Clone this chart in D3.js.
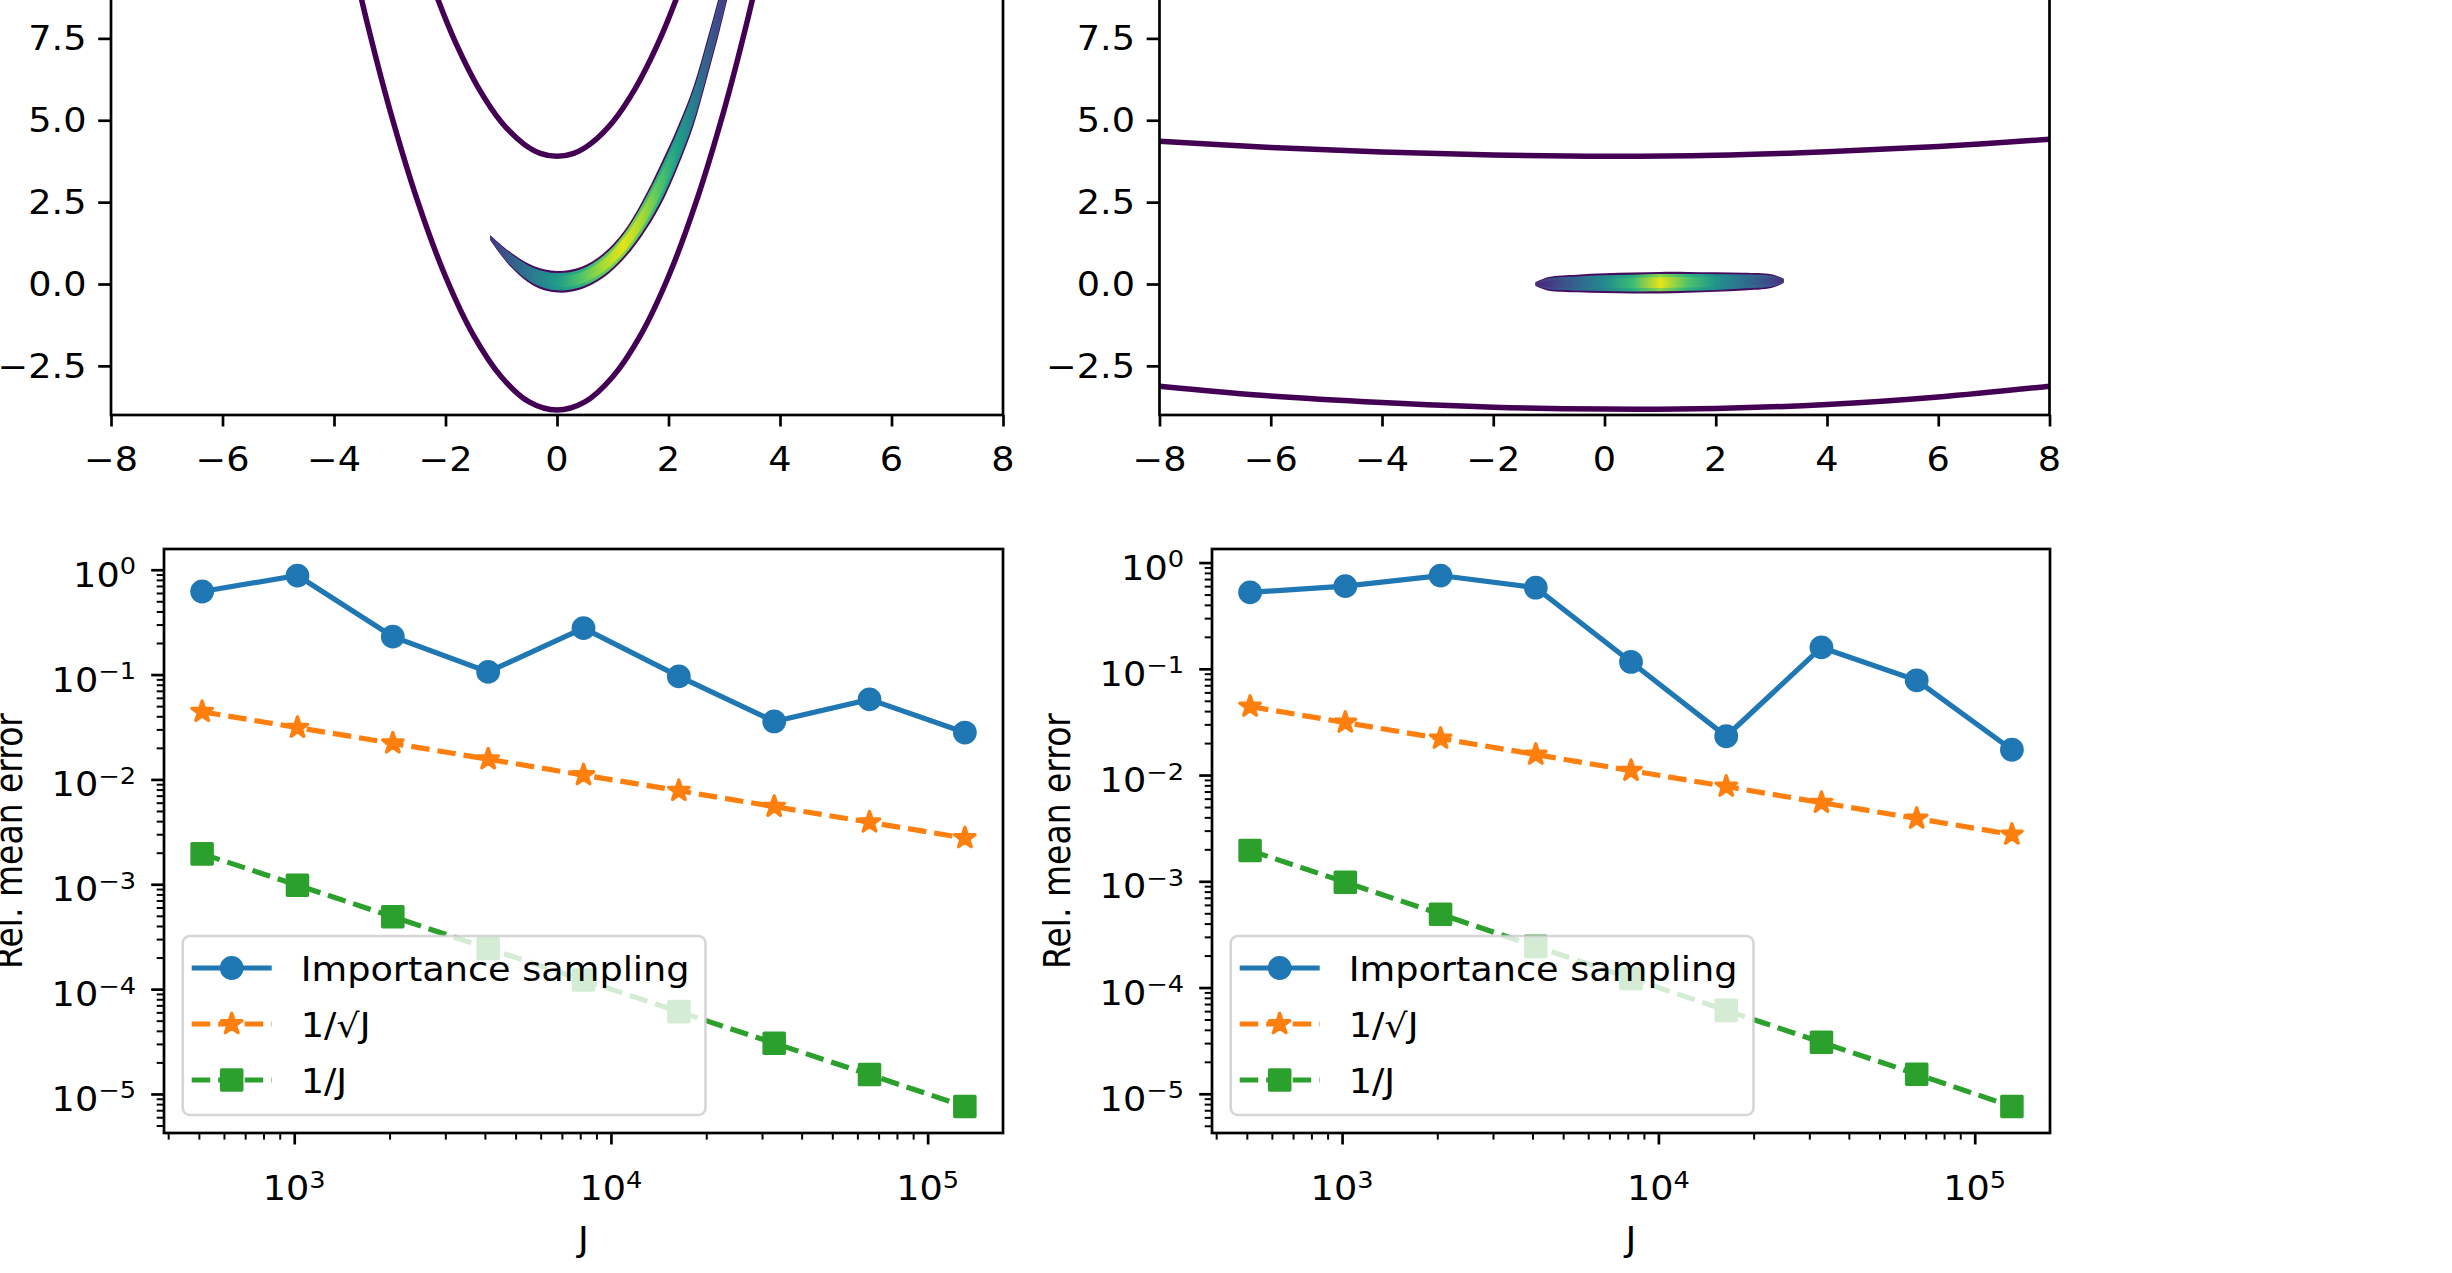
<!DOCTYPE html>
<html>
<head>
<meta charset="utf-8">
<script src="https://cdn.jsdelivr.net/npm/d3@7"></script>
<style>
  body { margin: 0; background: #fff; }
  svg { display: block; }
  text { font-family: "DejaVu Sans", sans-serif; fill: #000; }
</style>
</head>
<body>
<div id="chart"></div>
<script>
// --------------------------------------
//  Data
// --------------------------------------

// bottom row: sample size J against relative mean error
const sampleSizes = [512, 1024, 2048, 4096, 8192, 16384, 32768, 65536, 131072];
const errLeft  = [0.62, 0.88, 0.23, 0.106, 0.277, 0.096, 0.0357, 0.058, 0.028];
const errRight = [0.525, 0.60, 0.755, 0.58, 0.116, 0.0232, 0.159, 0.078, 0.0173];
const refSqrt  = [0.0442, 0.0312, 0.0221, 0.0156, 0.0110, 0.0078, 0.0055, 0.0039, 0.00276];
const refLin   = [0.00195, 0.00098, 0.00049, 0.000244, 0.000122, 0.000061, 0.0000305, 0.0000153, 0.0000076];
const legendLabels = ["Importance sampling", "1/\u221AJ", "1/J"];

// tick values
const linXTicks = [-8, -6, -4, -2, 0, 2, 4, 6, 8];
const linYTicks = [-2.5, 0, 2.5, 5, 7.5];
const logXTicks = [1e3, 1e4, 1e5];
const logYTicks = [1, 1e-1, 1e-2, 1e-3, 1e-4, 1e-5];

// top left: two contour lines and the banana shaped density
const outerX = [-3.8, -3.4, -3, -2.5, -2, -1.5, -1, -0.5, 0, 0.5, 1, 1.5, 2, 2.5, 3, 3.4, 3.8];
const outerY = [10.88, 7.94, 5.33, 2.53, 0.23, -1.56, -2.83, -3.6, -3.85, -3.6, -2.83, -1.56, 0.23, 2.53, 5.33, 7.94, 10.88];
const innerX = [-2.6, -2.2, -1.8, -1.4, -1, -0.6, -0.3, 0, 0.3, 0.6, 1, 1.4, 1.8, 2.2, 2.6];
const innerY = [11.0, 8.98, 7.3, 5.96, 4.95, 4.28, 3.99, 3.9, 3.99, 4.28, 4.95, 5.96, 7.3, 8.98, 11.0];
const bananaX    = [-1.2, -0.84, -0.42, 0, 0.42, 0.83, 1.19, 1.52, 1.85, 2.15, 2.45, 2.69, 2.93, 3.12];
const bananaY    = [1.42, 0.76, 0.25, 0.07, 0.17, 0.56, 1.17, 1.98, 3.0, 4.12, 5.44, 6.86, 8.38, 9.7];
const bananaPeak = [0.15, 0.28, 0.42, 0.55, 0.72, 0.87, 0.96, 0.87, 0.72, 0.57, 0.42, 0.3, 0.2, 0.14];
const bananaHalf = [0.08, 0.22, 0.3, 0.33, 0.34, 0.37, 0.42, 0.52, 0.62, 0.62, 0.6, 0.58, 0.56, 0.55];

// top right: two flat contour lines and the narrow density blob
const upperX = [-8, -6, -4, -2, 0, 2, 4, 6, 8];
const upperY = [4.36, 4.17, 4.03, 3.94, 3.9, 3.93, 4.04, 4.2, 4.42];
const lowerX = [-8, -6, -4, -2, 0, 2, 4, 6, 8];
const lowerY = [-3.12, -3.42, -3.62, -3.76, -3.82, -3.8, -3.68, -3.45, -3.12];
const blobX    = [-1.24, -1.0, -0.5, 0, 0.5, 1.0, 1.5, 2.0, 2.5, 3.0, 3.22];
const blobY    = [0.0, 0.005, 0.015, 0.025, 0.03, 0.04, 0.05, 0.06, 0.075, 0.09, 0.1];
const blobPeak = [0.1, 0.17, 0.32, 0.48, 0.68, 0.96, 0.72, 0.52, 0.36, 0.22, 0.12];
const blobHalf = [0.06, 0.21, 0.27, 0.3, 0.32, 0.33, 0.32, 0.3, 0.27, 0.21, 0.07];

// --------------------------------------
//  Canvas
// --------------------------------------

const width = 2452;
const height = 1273;
const fontSize = 33;
const stretch = 1.11;   // the picture is a bit wider than tall

const svg = d3.select("#chart")
  .append("svg")
    .attr("width", width)
    .attr("height", height)
    .attr("viewBox", `0 0 ${width} ${height}`);

svg.append("rect").attr("width", width).attr("height", height).attr("fill", "#fff");
const defs = svg.append("defs");

// --------------------------------------
//  Helpers
// --------------------------------------

function addText(g, x, y, str, anchor) {
  return g.append("text")
    .attr("transform", `translate(${x},${y}) scale(${stretch},1)`)
    .attr("text-anchor", anchor)
    .attr("font-size", fontSize)
    .text(str);
}

function addPow(g, x, y, v, anchor) {
  const t = g.append("text")
    .attr("transform", `translate(${x},${y}) scale(${stretch},1)`)
    .attr("text-anchor", anchor)
    .attr("font-size", fontSize);
  t.append("tspan").text("10");
  t.append("tspan").attr("font-size", fontSize * 0.7).attr("dy", -12.5)
    .text(d3.format("d")(Math.round(Math.log10(v))));
}

function tickMarks(g, axis, transform, w) {
  const a = g.append("g").attr("transform", transform).call(axis);
  a.select(".domain").remove();
  a.selectAll("text").remove();
  a.selectAll("line").attr("stroke", "#000").attr("stroke-width", w);
}

function clip(id, x0, y0, x1, y1) {
  defs.append("clipPath").attr("id", id)
    .append("rect").attr("x", x0).attr("y", y0).attr("width", x1 - x0).attr("height", y1 - y0);
}

// density ridge: purple rim, then two gradient layers coloured along x
function drawRidge(g, id, xs, ys, peaks, halves, x, y) {
  const pts = xs.map((v, i) => ({x: v, y: ys[i], p: peaks[i], h: halves[i]}));
  const x0 = x(xs[0]), x1 = x(xs[xs.length - 1]);
  const layers = [
    {f: 1.0, col: () => d3.interpolateViridis(0.03)},
    {f: 0.8, col: p => d3.interpolateViridis(0.1 + p * 0.75)},
    {f: 0.5, col: p => d3.interpolateViridis(p)}
  ];
  layers.forEach((L, k) => {
    const grad = defs.append("linearGradient")
      .attr("id", `${id}-g${k}`)
      .attr("gradientUnits", "userSpaceOnUse")
      .attr("x1", x0).attr("x2", x1).attr("y1", 0).attr("y2", 0);
    pts.forEach(d => grad.append("stop")
      .attr("offset", (x(d.x) - x0) / (x1 - x0))
      .attr("stop-color", L.col(d.p)));
    const area = d3.area()
      .x(d => x(d.x))
      .y0(d => y(d.y - d.h * L.f))
      .y1(d => y(d.y + d.h * L.f))
      .curve(d3.curveCatmullRom.alpha(0.5));
    g.append("path").attr("d", area(pts)).attr("fill", `url(#${id}-g${k})`);
  });
}

function logPad(vals) {
  const lo = Math.log10(d3.min(vals)), hi = Math.log10(d3.max(vals));
  const m = 0.05 * (hi - lo);
  return [10 ** (lo - m), 10 ** (hi + m)];
}

function minorTicks(domain) {
  const out = [];
  const lo = Math.floor(Math.log10(domain[0])), hi = Math.ceil(Math.log10(domain[1]));
  for (let e = lo; e <= hi; e++) {
    for (let m = 2; m <= 9; m++) {
      const v = m * 10 ** e;
      if (v >= domain[0] && v <= domain[1]) out.push(v);
    }
  }
  return out;
}

// --------------------------------------
//  Top row: densities
// --------------------------------------

const topBottom = 415;
const topUnit = 32.75;
const topPanels = [
  {id: "tl", left: 111, right: 1003,
   lines: [[outerX, outerY], [innerX, innerY]],
   ridge: [bananaX, bananaY, bananaPeak, bananaHalf]},
  {id: "tr", left: 1159.5, right: 2049.5,
   lines: [[upperX, upperY], [lowerX, lowerY]],
   ridge: [blobX, blobY, blobPeak, blobHalf]}
];

topPanels.forEach(P => {
  const x = d3.scaleLinear().domain([-8, 8]).range([P.left, P.right]);
  const y = d3.scaleLinear().domain([-4, 12]).range([topBottom, topBottom - 16 * topUnit]);
  const g = svg.append("g");
  const yTop = y(12);

  clip(P.id, P.left, yTop, P.right, topBottom);
  const inner = g.append("g").attr("clip-path", `url(#${P.id})`);

  drawRidge(inner, P.id, ...P.ridge, x, y);

  const line = d3.line().x(d => x(d[0])).y(d => y(d[1])).curve(d3.curveCatmullRom.alpha(0.5));
  P.lines.forEach(([xs, ys]) => {
    inner.append("path")
      .attr("d", line(xs.map((v, i) => [v, ys[i]])))
      .attr("fill", "none")
      .attr("stroke", "#440154")
      .attr("stroke-width", 5.5);
  });

  // spines
  g.append("rect")
    .attr("x", P.left).attr("y", yTop)
    .attr("width", P.right - P.left).attr("height", topBottom - yTop)
    .attr("fill", "none").attr("stroke", "#000").attr("stroke-width", 2.7);

  tickMarks(g, d3.axisBottom(x).tickValues(linXTicks).tickSize(11.5).tickFormat(""),
    `translate(0,${topBottom})`, 2.7);
  tickMarks(g, d3.axisLeft(y).tickValues(linYTicks).tickSize(12.8).tickFormat(""),
    `translate(${P.left},0)`, 2.7);

  linXTicks.forEach(v => addText(g, x(v), topBottom + 56, d3.format("d")(v), "middle"));
  linYTicks.forEach(v => addText(g, P.left - 24.5, y(v) + 12, d3.format(".1f")(v), "end"));
});

// --------------------------------------
//  Bottom row: convergence
// --------------------------------------

const botTop = 549;
const botBottom = 1133;
const botPanels = [
  {id: "bl", left: 164, right: 1003, err: errLeft},
  {id: "br", left: 1212, right: 2050, err: errRight}
];

const styles = [
  {color: "#1f77b4", dash: null, symbol: d3.symbolCircle, size: 330},
  {color: "#ff7f0e", dash: "18.5,8", symbol: d3.symbolStar, size: 130},
  {color: "#2ca02c", dash: "18.5,8", symbol: d3.symbolSquare, size: 410}
];

botPanels.forEach(P => {
  const series = [P.err, refSqrt, refLin];
  const xDom = logPad(sampleSizes);
  const yDom = logPad(series.flat());
  const x = d3.scaleLog().domain(xDom).range([P.left, P.right]);
  const y = d3.scaleLog().domain(yDom).range([botBottom, botTop]);
  const g = svg.append("g");

  clip(P.id, P.left, botTop, P.right, botBottom);
  const inner = g.append("g").attr("clip-path", `url(#${P.id})`);

  series.forEach((vals, k) => {
    const s = styles[k];
    const pts = sampleSizes.map((J, i) => [J, vals[i]]);
    inner.append("path")
      .attr("d", d3.line().x(d => x(d[0])).y(d => y(d[1]))(pts))
      .attr("fill", "none")
      .attr("stroke", s.color)
      .attr("stroke-width", 5.2)
      .attr("stroke-dasharray", s.dash);
    inner.selectAll(null)
      .data(pts)
      .join("path")
        .attr("transform", d => `translate(${x(d[0])},${y(d[1])})`)
        .attr("d", d3.symbol(s.symbol, s.size))
        .attr("fill", s.color)
        .attr("stroke", s.color)
        .attr("stroke-width", 3.3)
        .attr("stroke-linejoin", "round");
  });

  // spines
  g.append("rect")
    .attr("x", P.left).attr("y", botTop)
    .attr("width", P.right - P.left).attr("height", botBottom - botTop)
    .attr("fill", "none").attr("stroke", "#000").attr("stroke-width", 2.7);

  tickMarks(g, d3.axisBottom(x).tickValues(logXTicks).tickSize(11.5).tickFormat(""),
    `translate(0,${botBottom})`, 2.7);
  tickMarks(g, d3.axisBottom(x).tickValues(minorTicks(xDom)).tickSize(6.6).tickFormat(""),
    `translate(0,${botBottom})`, 2);
  tickMarks(g, d3.axisLeft(y).tickValues(logYTicks).tickSize(12.8).tickFormat(""),
    `translate(${P.left},0)`, 2.7);
  tickMarks(g, d3.axisLeft(y).tickValues(minorTicks(yDom)).tickSize(7.3).tickFormat(""),
    `translate(${P.left},0)`, 2);

  logXTicks.forEach(v => addPow(g, x(v), botBottom + 67, v, "middle"));
  logYTicks.forEach(v => addPow(g, P.left - 28, y(v) + 17, v, "end"));

  addText(g, (P.left + P.right) / 2, 1251, "J", "middle");
  g.append("text")
    .attr("transform", `translate(${P.left - 142},${(botTop + botBottom) / 2}) rotate(-90) scale(1,${stretch})`)
    .attr("text-anchor", "middle")
    .attr("font-size", fontSize)
    .text("Rel. mean error");

  // legend, lower left
  const lx = P.left + 18.7;
  const lTop = botBottom - 18 - 179;
  const rows = [32, 88, 144];
  const frame = g.append("rect")
    .attr("x", lx).attr("y", lTop).attr("height", 179).attr("rx", 7)
    .attr("fill", "#fff").attr("fill-opacity", 0.8)
    .attr("stroke", "#cccccc").attr("stroke-opacity", 0.8).attr("stroke-width", 2.6);
  let textW = 0;
  legendLabels.forEach((lab, k) => {
    const s = styles[k];
    const cy = lTop + rows[k];
    g.append("line")
      .attr("x1", lx + 9).attr("x2", lx + 89).attr("y1", cy).attr("y2", cy)
      .attr("stroke", s.color).attr("stroke-width", 5.2)
      .attr("stroke-dasharray", s.dash);
    g.append("path")
      .attr("transform", `translate(${lx + 49},${cy})`)
      .attr("d", d3.symbol(s.symbol, s.size))
      .attr("fill", s.color).attr("stroke", s.color)
      .attr("stroke-width", 3.3).attr("stroke-linejoin", "round");
    const t = addText(g, lx + 118, cy + 13, lab, "start");
    textW = Math.max(textW, t.node().getComputedTextLength() * stretch);
  });
  frame.attr("width", 118 + textW + 16);
});
</script>
</body>
</html>
